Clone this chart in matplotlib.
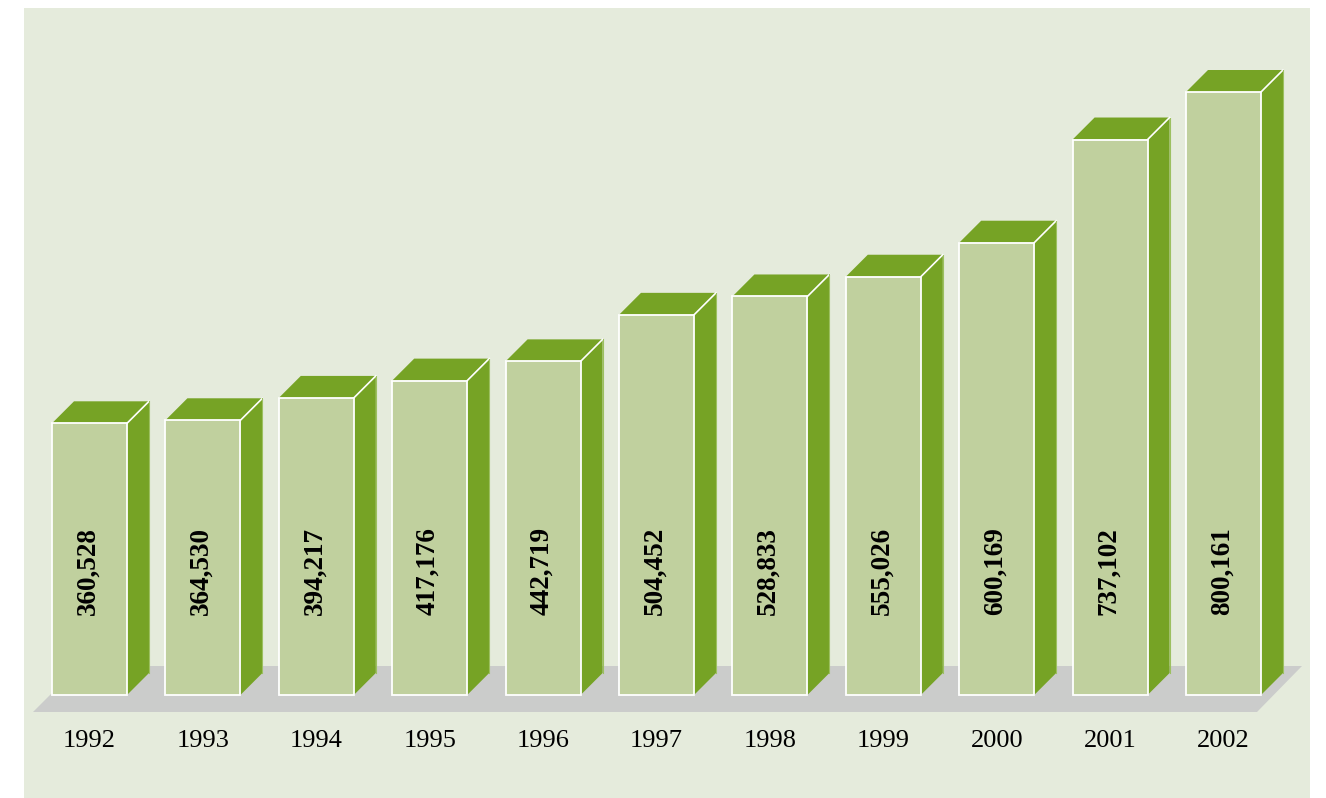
import matplotlib
matplotlib.use("Agg")
import matplotlib.pyplot as plt
from matplotlib.patches import Polygon, Rectangle

years = ["1992", "1993", "1994", "1995", "1996", "1997", "1998", "1999", "2000", "2001", "2002"]
values = [360528, 364530, 394217, 417176, 442719, 504452, 528833, 555026, 600169, 737102, 800161]

# colours
panel_col = "#e5ebdc"
front_col = "#c0d09e"
dark_col = "#76a325"
floor_col = "#cbcccb"

W, H = 1326, 798
fig = plt.figure(figsize=(W / 100, H / 100), dpi=100)
fig.patch.set_facecolor("white")

ax = fig.add_axes([0, 0, 1, 1])
ax.set_facecolor("none")
ax.axis("off")

# background panel
ax.add_patch(Rectangle((24 / W, 0), (1310 - 24) / W, (H - 8) / H,
                       transform=fig.transFigure, facecolor=panel_col,
                       edgecolor="none", zorder=0))

# pixel geometry -> data scales
x0_px, slot_px = 89.5, 113.4
base_px = 695.0
ypx = 603.0 / 800161
ax.set_xlim(-x0_px / slot_px, (W - x0_px) / slot_px)
ax.set_ylim(-(H - base_px) / ypx, base_px / ypx)

def px_x(p):
    return (p - x0_px) / slot_px

def px_y(p):
    return (base_px - p) / ypx

w = 75 / slot_px
dx = 22 / slot_px
dy = 22 / ypx

# floor
floor = Polygon([(px_x(33), px_y(712)), (px_x(1257), px_y(712)),
                 (px_x(1302), px_y(666)), (px_x(79), px_y(666))],
                closed=True, facecolor=floor_col, edgecolor="none", zorder=1)
ax.add_patch(floor)

xs = list(range(len(years)))
for x, v in zip(xs, values):
    l, r = x - w / 2, x + w / 2
    side = Polygon([(r, 0), (r, v), (r + dx, v + dy), (r + dx, dy)],
                   closed=True, facecolor=dark_col, edgecolor="none", zorder=2)
    top = Polygon([(l, v), (l + dx, v + dy), (r + dx, v + dy), (r, v)],
                  closed=True, facecolor=dark_col, edgecolor="none", zorder=2)
    ax.add_patch(side)
    ax.add_patch(top)
    ax.plot([r, r + dx], [v, v + dy], color="white", lw=1.2, zorder=3)
    ax.plot([r + dx, r + dx], [dy, v + dy], color="#9cc060", lw=0.8, zorder=3)

ax.bar(xs, values, width=w, color=front_col, edgecolor="white", linewidth=1.3, zorder=4)

for x, v, yr in zip(xs, values, years):
    ax.text(x - 1.5 / slot_px, px_y(571), f"{v:,}", rotation=90, ha="center", va="center",
            fontsize=19.5, fontweight="bold", family="Liberation Serif",
            color="black", zorder=5)
    ax.text(x, px_y(741), yr, ha="center", va="center", fontsize=19,
            family="Liberation Serif", color="black", zorder=5)

fig.savefig("out.png", dpi=100)
